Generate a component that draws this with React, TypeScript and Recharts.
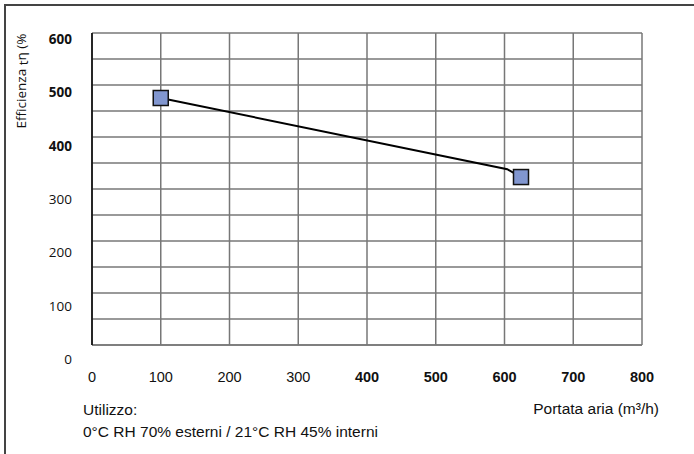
import React from "react";
import { ComposedChart, Scatter, XAxis, YAxis, CartesianGrid } from "recharts";

// Data
const flowTicks = [0, 100, 200, 300, 400, 500, 600, 700, 800];
const boldFlowTicks = [400, 500, 600, 700, 800];
const effTicks = [0, 50, 100, 150, 200, 250, 300, 350, 400, 450, 500, 550, 600];
const effLabels = [0, 100, 200, 300, 400, 500, 600];
const boldEffLabels = [400, 500, 600];

// measured points (markers)
const markerFlow = [100, 624];
const markerEff = [475, 323];
// curve through the points (with the bend near the end)
const curveFlow = [100, 604, 624];
const curveEff = [475, 338, 323];

const markerData = markerFlow.map((x, i) => ({ x, y: markerEff[i] }));
const curveData = curveFlow.map((x, i) => ({ x, y: curveEff[i] }));

const W = 694;
const H = 454;

const YTick = (props: any) => {
  const { y, payload } = props;
  const v = payload.value;
  if (!effLabels.includes(v)) return null;
  const dy = 6 + ((600 - v) / 600) * 8;
  return (
    <text
      x={72}
      y={y + dy}
      textAnchor="end"
      dominantBaseline="central"
      fontFamily="'Open Sans', sans-serif"
      fontSize={13.5}
      fontWeight={boldEffLabels.includes(v) ? 700 : 400}
      fill="#111"
    >
      {v}
    </text>
  );
};

const XTick = (props: any) => {
  const { x, payload } = props;
  const v = payload.value;
  return (
    <text
      x={x}
      y={377}
      textAnchor="middle"
      dominantBaseline="central"
      fontFamily="'Liberation Sans', Arial, sans-serif"
      fontSize={14.5}
      fontWeight={boldFlowTicks.includes(v) ? 700 : 400}
      fill="#111"
    >
      {v}
    </text>
  );
};

const Square = (props: any) => {
  const { cx, cy } = props;
  if (cx == null || cy == null) return null;
  return (
    <rect
      x={cx - 7.5}
      y={cy - 7.5}
      width={15}
      height={15}
      fill="#8196cf"
      stroke="#111"
      strokeWidth={1.5}
    />
  );
};

const NoDot = () => <g />;

export default function App() {
  return (
    <div
      style={{
        position: "absolute",
        left: 0,
        top: 0,
        width: W,
        height: H,
        overflow: "hidden",
        background: "#fff",
      }}
    >
      <div
        style={{
          position: "absolute",
          left: 4,
          top: 4,
          width: W + 20,
          height: H + 20,
          border: "2px solid #444",
          boxSizing: "border-box",
        }}
      />
      <div style={{ position: "absolute", left: 0, top: 0 }}>
        <ComposedChart
          width={W}
          height={H}
          margin={{ top: 33, right: 52, bottom: 79, left: 0 }}
        >
          <CartesianGrid
            stroke="#777"
            strokeWidth={1.5}
            fill="#fff"
            horizontal={true}
            vertical={true}
          />
          <XAxis
            type="number"
            dataKey="x"
            domain={[0, 800]}
            ticks={flowTicks}
            tick={<XTick />}
            tickLine={false}
            axisLine={{ stroke: "#777", strokeWidth: 1.5 }}
            height={30}
            interval={0}
          />
          <YAxis
            type="number"
            dataKey="y"
            domain={[0, 600]}
            ticks={effTicks}
            tick={<YTick />}
            tickLine={false}
            axisLine={{ stroke: "#000", strokeWidth: 1.5 }}
            width={92}
            interval={0}
          />
          <Scatter
            data={curveData}
            line={{ stroke: "#000", strokeWidth: 2 }}
            shape={<NoDot />}
            isAnimationActive={false}
          />
          <Scatter data={markerData} shape={<Square />} isAnimationActive={false} />
        </ComposedChart>
      </div>
      <svg
        width={W}
        height={H}
        style={{ position: "absolute", left: 0, top: 0, pointerEvents: "none" }}
      >
        <text
          transform="translate(21, 81) rotate(-90)"
          textAnchor="middle"
          dominantBaseline="central"
          fontFamily="'Open Sans', sans-serif"
          fontSize={13.5}
          fill="#111"
        >
          Efficienza{" "}
          <tspan dy={2}>t</tspan>
          <tspan dy={-2}>η (%</tspan>
        </text>
        <text
          x={83}
          y={415}
          fontFamily="'Liberation Sans', Arial, sans-serif"
          fontSize={15.5}
          fill="#111"
        >
          Utilizzo:
        </text>
        <text
          x={83}
          y={437}
          fontFamily="'Liberation Sans', Arial, sans-serif"
          fontSize={15.5}
          fill="#111"
        >
          0°C RH 70% esterni / 21°C RH 45% interni
        </text>
        <text
          x={659}
          y={414}
          textAnchor="end"
          fontFamily="'Liberation Sans', Arial, sans-serif"
          fontSize={15.5}
          fill="#111"
        >
          Portata aria (m³/h)
        </text>
      </svg>
    </div>
  );
}
